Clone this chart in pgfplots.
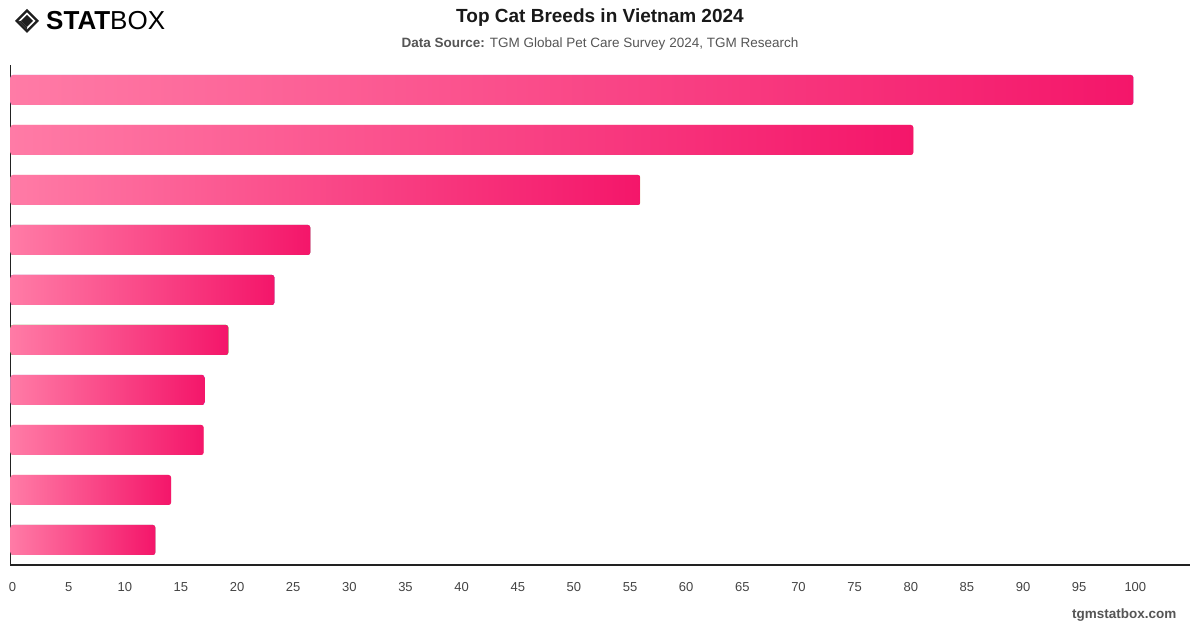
\documentclass[border=0pt]{standalone}
\usepackage{pgfplots}
\pgfplotsset{compat=1.18}
\usepackage{fontspec}
\setmainfont{Liberation Sans}
\definecolor{barL}{HTML}{FF7BA6}
\definecolor{barR}{HTML}{F4166A}
\definecolor{axisc}{HTML}{222222}
\definecolor{tickc}{HTML}{444444}
\definecolor{subc}{HTML}{555555}
\begin{document}
\begin{tikzpicture}[x=1pt,y=1pt]
\path[use as bounding box] (0,0) rectangle (1200,628);
% logo
\begin{scope}[shift={(27,607)}]
\fill[black!88] (0,12) -- (12,0) -- (0,-12) -- (-12,0) -- cycle;
\fill[white] (0,8.5) -- (8.5,0) -- (0,-8.5) -- (-8.5,0) -- cycle;
\fill[black!88] (0,6) -- (6,0) -- (0,-6) -- (-6,0) -- cycle;
\fill[black!88] (-8.5,0) -- (0,-8.5) -- (0,-6) -- (-6,0) -- cycle;
\end{scope}
\node[anchor=west, inner sep=0pt, font=\fontsize{26}{26}\selectfont] at (46,607) {\textbf{STAT}BOX};
% title
\node[font=\fontsize{19}{22}\selectfont\bfseries, text=black!90] at (600,610) {Top Cat Breeds in Vietnam 2024};
\node[font=\fontsize{13.5}{16}\selectfont, text=subc] at (600,584) {\textbf{Data Source:} TGM Global Pet Care Survey 2024, TGM Research};
\node[anchor=east, font=\fontsize{13.5}{16}\selectfont\bfseries, text=subc] at (1180,13) {tgmstatbox.com};
\begin{axis}[
  at={(10.5pt,63pt)}, anchor=south west,
  scale only axis, width=1179pt, height=500pt,
  xmin=0, xmax=105, ymin=-0.5, ymax=9.5,
  axis lines*=left,
  axis line style={axisc, line width=1.1pt},
  xtick={0,5,...,100},
  ytick=\empty,
  major tick length=0pt,
  xticklabel style={text=tickc, font=\fontsize{13}{15}\selectfont, anchor=base, yshift=-27pt, xshift=2pt},
  /pgf/number format/assume math mode=true,
  xbar, bar width=0.6, bar shift=0pt,
  every axis plot/.append style={draw=none, left color=barL, right color=barR, rounded corners=2.5pt},
  clip=false,
]
\addplot coordinates {(100,9)};
\addplot coordinates {(80.4,8)};
\addplot coordinates {(56.1,7)};
\addplot coordinates {(26.7,6)};
\addplot coordinates {(23.5,5)};
\addplot coordinates {(19.4,4)};
\addplot coordinates {(17.3,3)};
\addplot coordinates {(17.2,2)};
\addplot coordinates {(14.3,1)};
\addplot coordinates {(12.9,0)};
\end{axis}
\end{tikzpicture}
\end{document}
